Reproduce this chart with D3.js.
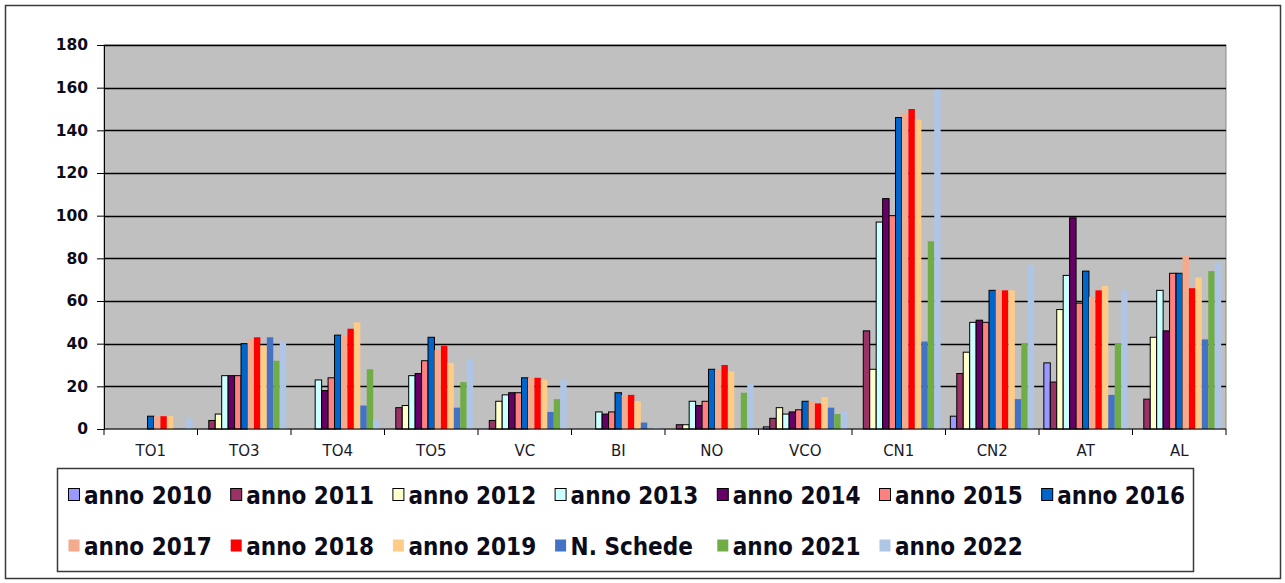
<!DOCTYPE html>
<html>
<head>
<meta charset="utf-8">
<script src="https://cdn.jsdelivr.net/npm/d3@7"></script>
<style>
  body { margin: 0; background: #fff; }
  svg text { font-family: "DejaVu Sans", Verdana, sans-serif; }
</style>
</head>
<body>
<div class="chart"></div>
<script>
// Categories (ASL) and series
var categories = ["TO1", "TO3", "TO4", "TO5", "VC", "BI", "NO", "VCO", "CN1", "CN2", "AT", "AL"];
var seriesNames = ["anno 2010", "anno 2011", "anno 2012", "anno 2013", "anno 2014", "anno 2015", "anno 2016",
                   "anno 2017", "anno 2018", "anno 2019", "N. Schede", "anno 2021", "anno 2022"];
var yTicks = [0, 20, 40, 60, 80, 100, 120, 140, 160, 180];

// Values per series, one per category
var anno2010 = [0, 0, 0, 0, 0, 0, 0, 1, 0, 6, 31, 0];
var anno2011 = [0, 4, 0, 10, 4, 0, 2, 5, 46, 26, 22, 14];
var anno2012 = [0, 7, 0, 11, 13, 0, 2, 10, 28, 36, 56, 43];
var anno2013 = [0, 25, 23, 25, 16, 8, 13, 7, 97, 50, 72, 65];
var anno2014 = [0, 25, 18, 26, 17, 7, 11, 8, 108, 51, 99, 46];
var anno2015 = [0, 25, 24, 32, 17, 8, 13, 9, 100, 50, 59, 73];
var anno2016 = [6, 40, 44, 43, 24, 17, 28, 13, 146, 65, 74, 73];
var anno2017 = [6, 42, 44, 37, 24, 16, 28, 13, 148, 65, 62, 81];
var anno2018 = [6, 43, 47, 39, 24, 16, 30, 12, 150, 65, 65, 66];
var anno2019 = [6, 39, 50, 31, 23, 13, 27, 15, 145, 65, 67, 71];
var nSchede  = [0, 43, 11, 10, 8, 3, 0, 10, 41, 14, 16, 42];
var anno2021 = [0, 32, 28, 22, 14, 0, 17, 7, 88, 40, 40, 74];
var anno2022 = [5, 41, 4, 33, 23, 1, 21, 8, 159, 77, 65, 78];

var seriesValues = [anno2010, anno2011, anno2012, anno2013, anno2014, anno2015, anno2016,
                    anno2017, anno2018, anno2019, nSchede, anno2021, anno2022];

var colors = ["#9999FF", "#993366", "#FFFFCC", "#CCFFFF", "#660066", "#FF8080", "#0066CC",
              "#F4AA8C", "#FF0000", "#FFCC88", "#4472C4", "#70AD47", "#AEC5E6"];
// the first seven series are drawn with a black outline
var outlined = seriesNames.map((d, i) => i < 7);

var svgWidth = 1285;
var svgHeight = 583;

var plot = { left: 104, top: 45, width: 1122, height: 384 };

var svg = d3.select(".chart")
  .append("svg")
  .attr("width", svgWidth)
  .attr("height", svgHeight);

// outer frame
svg.append("rect")
  .attr("x", 5.5).attr("y", 5.5)
  .attr("width", 1275).attr("height", 573)
  .attr("fill", "#fff")
  .attr("stroke", "#3a3a3a")
  .attr("stroke-width", 1.5);

var chartGroup = svg.append("g")
  .attr("transform", `translate(${plot.left}, ${plot.top})`);

// scales
var x0 = d3.scaleBand().domain(categories).range([0, plot.width]).padding(0);
var x1 = d3.scaleBand().domain(seriesNames).range([0, x0.bandwidth()])
  .paddingInner(0).paddingOuter(0.75);
var y = d3.scaleLinear().domain([0, 180]).range([plot.height, 0]);

// plot background
chartGroup.append("rect")
  .attr("width", plot.width).attr("height", plot.height)
  .attr("fill", "#C0C0C0")
  .attr("stroke", "#8a8a8a");

// gridlines
chartGroup.selectAll(".grid")
  .data(yTicks.filter(d => d > 0))
  .enter()
  .append("line")
  .attr("x1", 0).attr("x2", plot.width)
  .attr("y1", d => Math.round(y(d)) + 0.5).attr("y2", d => Math.round(y(d)) + 0.5)
  .attr("stroke", "#000")
  .attr("stroke-width", 1.3);

// bars
var rows = [];
seriesValues.forEach((vals, s) => {
  vals.forEach((v, c) => {
    if (v > 0) rows.push({ series: seriesNames[s], idx: s, cat: categories[c], value: v });
  });
});

chartGroup.selectAll(".bar")
  .data(rows)
  .enter()
  .append("rect")
  .attr("x", d => x0(d.cat) + x1(d.series))
  .attr("y", d => y(d.value))
  .attr("width", x1.bandwidth())
  .attr("height", d => y(0) - y(d.value))
  .attr("fill", d => colors[d.idx])
  .attr("stroke", d => outlined[d.idx] ? "#000" : "none")
  .attr("stroke-width", 1);

// y axis
var yAxis = d3.axisLeft(y).tickValues(yTicks).tickSize(7).tickPadding(9);
var yAxisG = chartGroup.append("g").call(yAxis);
yAxisG.select(".domain").attr("stroke", "#000");
yAxisG.selectAll("line").attr("stroke", "#000");
yAxisG.selectAll("text")
  .attr("font-size", "15.5px")
  .attr("font-weight", "bold")
  .attr("fill", "#0b0b1a")
  .style("font-family", "'DejaVu Sans', Verdana, sans-serif");

// x axis: ticks at category boundaries
var xAxisG = chartGroup.append("g").attr("transform", `translate(0, ${plot.height})`);
xAxisG.append("line")
  .attr("x1", 0).attr("x2", plot.width)
  .attr("stroke", "#000");
xAxisG.selectAll(".xtick")
  .data(d3.range(categories.length + 1))
  .enter()
  .append("line")
  .attr("x1", i => i * x0.step()).attr("x2", i => i * x0.step())
  .attr("y1", 0).attr("y2", 6)
  .attr("stroke", "#000");
xAxisG.selectAll(".xlabel")
  .data(categories)
  .enter()
  .append("text")
  .attr("x", d => x0(d) + x0.bandwidth() / 2)
  .attr("y", 27)
  .attr("text-anchor", "middle")
  .attr("font-size", "15px")
  .attr("fill", "#1a1a2a")
  .text(d => d);

// legend
var legend = svg.append("g");
legend.append("rect")
  .attr("x", 57.5).attr("y", 468.5)
  .attr("width", 1136).attr("height", 103)
  .attr("fill", "#fff")
  .attr("stroke", "#3a3a3a")
  .attr("stroke-width", 1.5);

var legendItems = legend.selectAll(".item")
  .data(seriesNames)
  .enter()
  .append("g")
  .attr("transform", (d, i) => `translate(${68 + (i % 7) * 162.2}, ${i < 7 ? 495 : 546})`);

legendItems.append("rect")
  .attr("x", 0.5).attr("y", -6.5)
  .attr("width", 11).attr("height", 12)
  .attr("fill", (d, i) => colors[i])
  .attr("stroke", (d, i) => outlined[i] ? "#000" : "none");

legendItems.append("text")
  .attr("x", 16)
  .attr("y", 8.5)
  .attr("font-size", "24px")
  .attr("font-weight", "bold")
  .attr("fill", "#0b0b1a")
  .style("font-family", "'DejaVu Sans Condensed', 'DejaVu Sans', sans-serif")
  .style("font-stretch", "condensed")
  .text(d => d);
</script>
</body>
</html>
